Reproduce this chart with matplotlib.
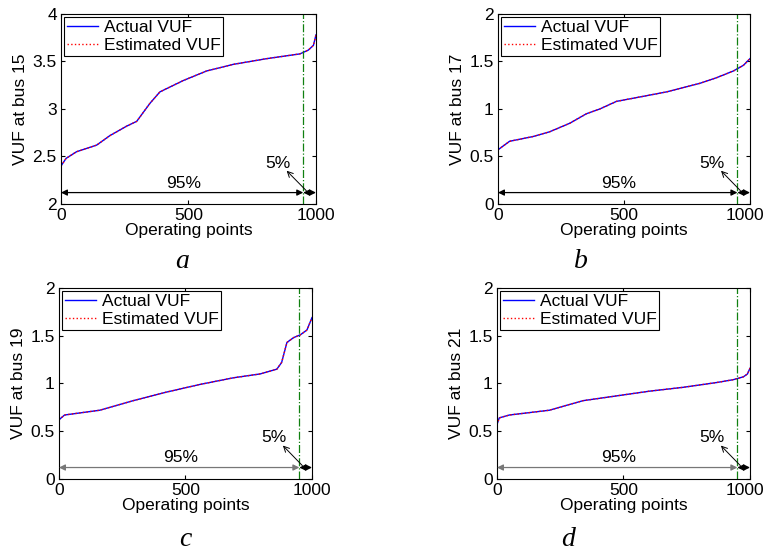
import numpy as np
import matplotlib
matplotlib.use("Agg")
import matplotlib.pyplot as plt
import matplotlib.transforms as mtransforms

plt.rcParams['font.family'] = ['Liberation Sans', 'DejaVu Sans']

# operating points (sorted) and VUF readings for each bus
x_a = [0, 20, 61, 140, 192, 258, 297, 349, 388, 480, 571, 676, 807, 937, 970, 990, 1000]
vuf_a = [2.40, 2.48, 2.55, 2.62, 2.72, 2.82, 2.87, 3.06, 3.18, 3.30, 3.40, 3.47, 3.53, 3.58, 3.62, 3.67, 3.78]

x_b = [0, 46, 139, 205, 285, 351, 404, 470, 550, 669, 801, 868, 934, 974, 1000]
vuf_b = [0.57, 0.66, 0.71, 0.76, 0.85, 0.95, 1.0, 1.08, 1.12, 1.18, 1.27, 1.33, 1.40, 1.46, 1.53]

x_c = [0, 22, 161, 293, 425, 557, 690, 795, 861, 880, 888, 901, 927, 954, 980, 1000]
vuf_c = [0.62, 0.67, 0.72, 0.82, 0.91, 0.99, 1.06, 1.10, 1.15, 1.22, 1.30, 1.43, 1.48, 1.51, 1.56, 1.69]

x_d = [0, 9, 49, 207, 273, 340, 472, 604, 736, 868, 934, 974, 990, 1000]
vuf_d = [0.57, 0.64, 0.67, 0.72, 0.77, 0.82, 0.87, 0.92, 0.96, 1.01, 1.04, 1.07, 1.10, 1.16]

buses = [15, 17, 19, 21]
letters = ['a', 'b', 'c', 'd']
ylims = [(2, 4), (0, 2), (0, 2), (0, 2)]
yticks = [[2, 2.5, 3, 3.5, 4], [0, 0.5, 1, 1.5, 2], [0, 0.5, 1, 1.5, 2], [0, 0.5, 1, 1.5, 2]]
ytick_labels = [['2', '2.5', '3', '3.5', '4'], ['0', '0.5', '1', '1.5', '2'],
                ['0', '0.5', '1', '1.5', '2'], ['0', '0.5', '1', '1.5', '2']]
split = 950
n_points = 1000

xs = [x_a, x_b, x_c, x_d]
ys = [vuf_a, vuf_b, vuf_c, vuf_d]

fs = 12.5
fig = plt.figure(figsize=(7.66, 5.51), dpi=100)
positions = [
    [0.0796, 0.6298, 0.3329, 0.3448],
    [0.6501, 0.6298, 0.3290, 0.3448],
    [0.0770, 0.1307, 0.3303, 0.3466],
    [0.6488, 0.1307, 0.3303, 0.3466],
]
label_pos = [(182, 262), (581, 262), (185, 539), (568, 539)]

for i in range(4):
    ax = fig.add_axes(positions[i])
    lo, hi = ylims[i]
    span = hi - lo
    ax.plot(xs[i], ys[i], color='blue', lw=1.0, label='Actual VUF')
    ax.plot(xs[i], ys[i], color='red', lw=1.0, ls=':', label='Estimated VUF')
    ax.axvline(split, color='#108010', lw=0.9, ls='-.')

    ya = lo + 0.06 * span
    arrow_col = 'black' if i < 2 else '#777777'
    ax.annotate('', xy=(0, ya), xytext=(split, ya),
                arrowprops=dict(arrowstyle='<|-|>', color=arrow_col, lw=0.9,
                                mutation_scale=9, shrinkA=0, shrinkB=0))
    ax.annotate('', xy=(split, ya), xytext=(n_points, ya),
                arrowprops=dict(arrowstyle='<|-|>', color='black', lw=0.9,
                                mutation_scale=9, shrinkA=0, shrinkB=0))
    ax.text(480, lo + 0.11 * span, '95%', ha='center', va='center', fontsize=fs)
    ax.text(850, lo + 0.215 * span, '5%', ha='center', va='center', fontsize=fs)
    ax.annotate('', xy=(885, lo + 0.175 * span), xytext=(962, lo + 0.07 * span),
                arrowprops=dict(arrowstyle='->', color='black', lw=0.7,
                                shrinkA=0, shrinkB=0))

    ax.set_xlim(0, 1000)
    ax.set_ylim(lo, hi)
    ax.set_xticks([0, 500, 1000])
    ax.set_yticks(yticks[i])
    ax.set_yticklabels(ytick_labels[i])
    ax.tick_params(direction='in', top=True, right=True, length=3, labelsize=fs, pad=3)
    ax.set_xlabel('Operating points', fontsize=fs, labelpad=0)
    ax.set_ylabel('VUF at bus %d' % buses[i], fontsize=fs, labelpad=3)
    for s in ax.spines.values():
        s.set_linewidth(0.8)
    leg = ax.legend(loc='upper left', bbox_to_anchor=(0.0, 1.0), fontsize=fs,
                    fancybox=False, edgecolor='black', framealpha=1,
                    handlelength=1.8, borderpad=0.15, labelspacing=0.15,
                    handletextpad=0.3, borderaxespad=0.2)
    leg.get_frame().set_linewidth(0.8)

    # keep the last x tick label inside the figure on the right-hand panels
    if i % 2 == 1:
        lab = ax.get_xticklabels()[-1]
        shift = mtransforms.ScaledTranslation(-5 / 100, 0, fig.dpi_scale_trans)
        lab.set_transform(lab.get_transform() + shift)

    lx, ly = label_pos[i]
    fig.text(lx / 766, 1 - ly / 551, letters[i], ha='center', va='center',
             fontsize=20, style='italic', family='Liberation Serif')

fig.savefig('out.png', dpi=100)
